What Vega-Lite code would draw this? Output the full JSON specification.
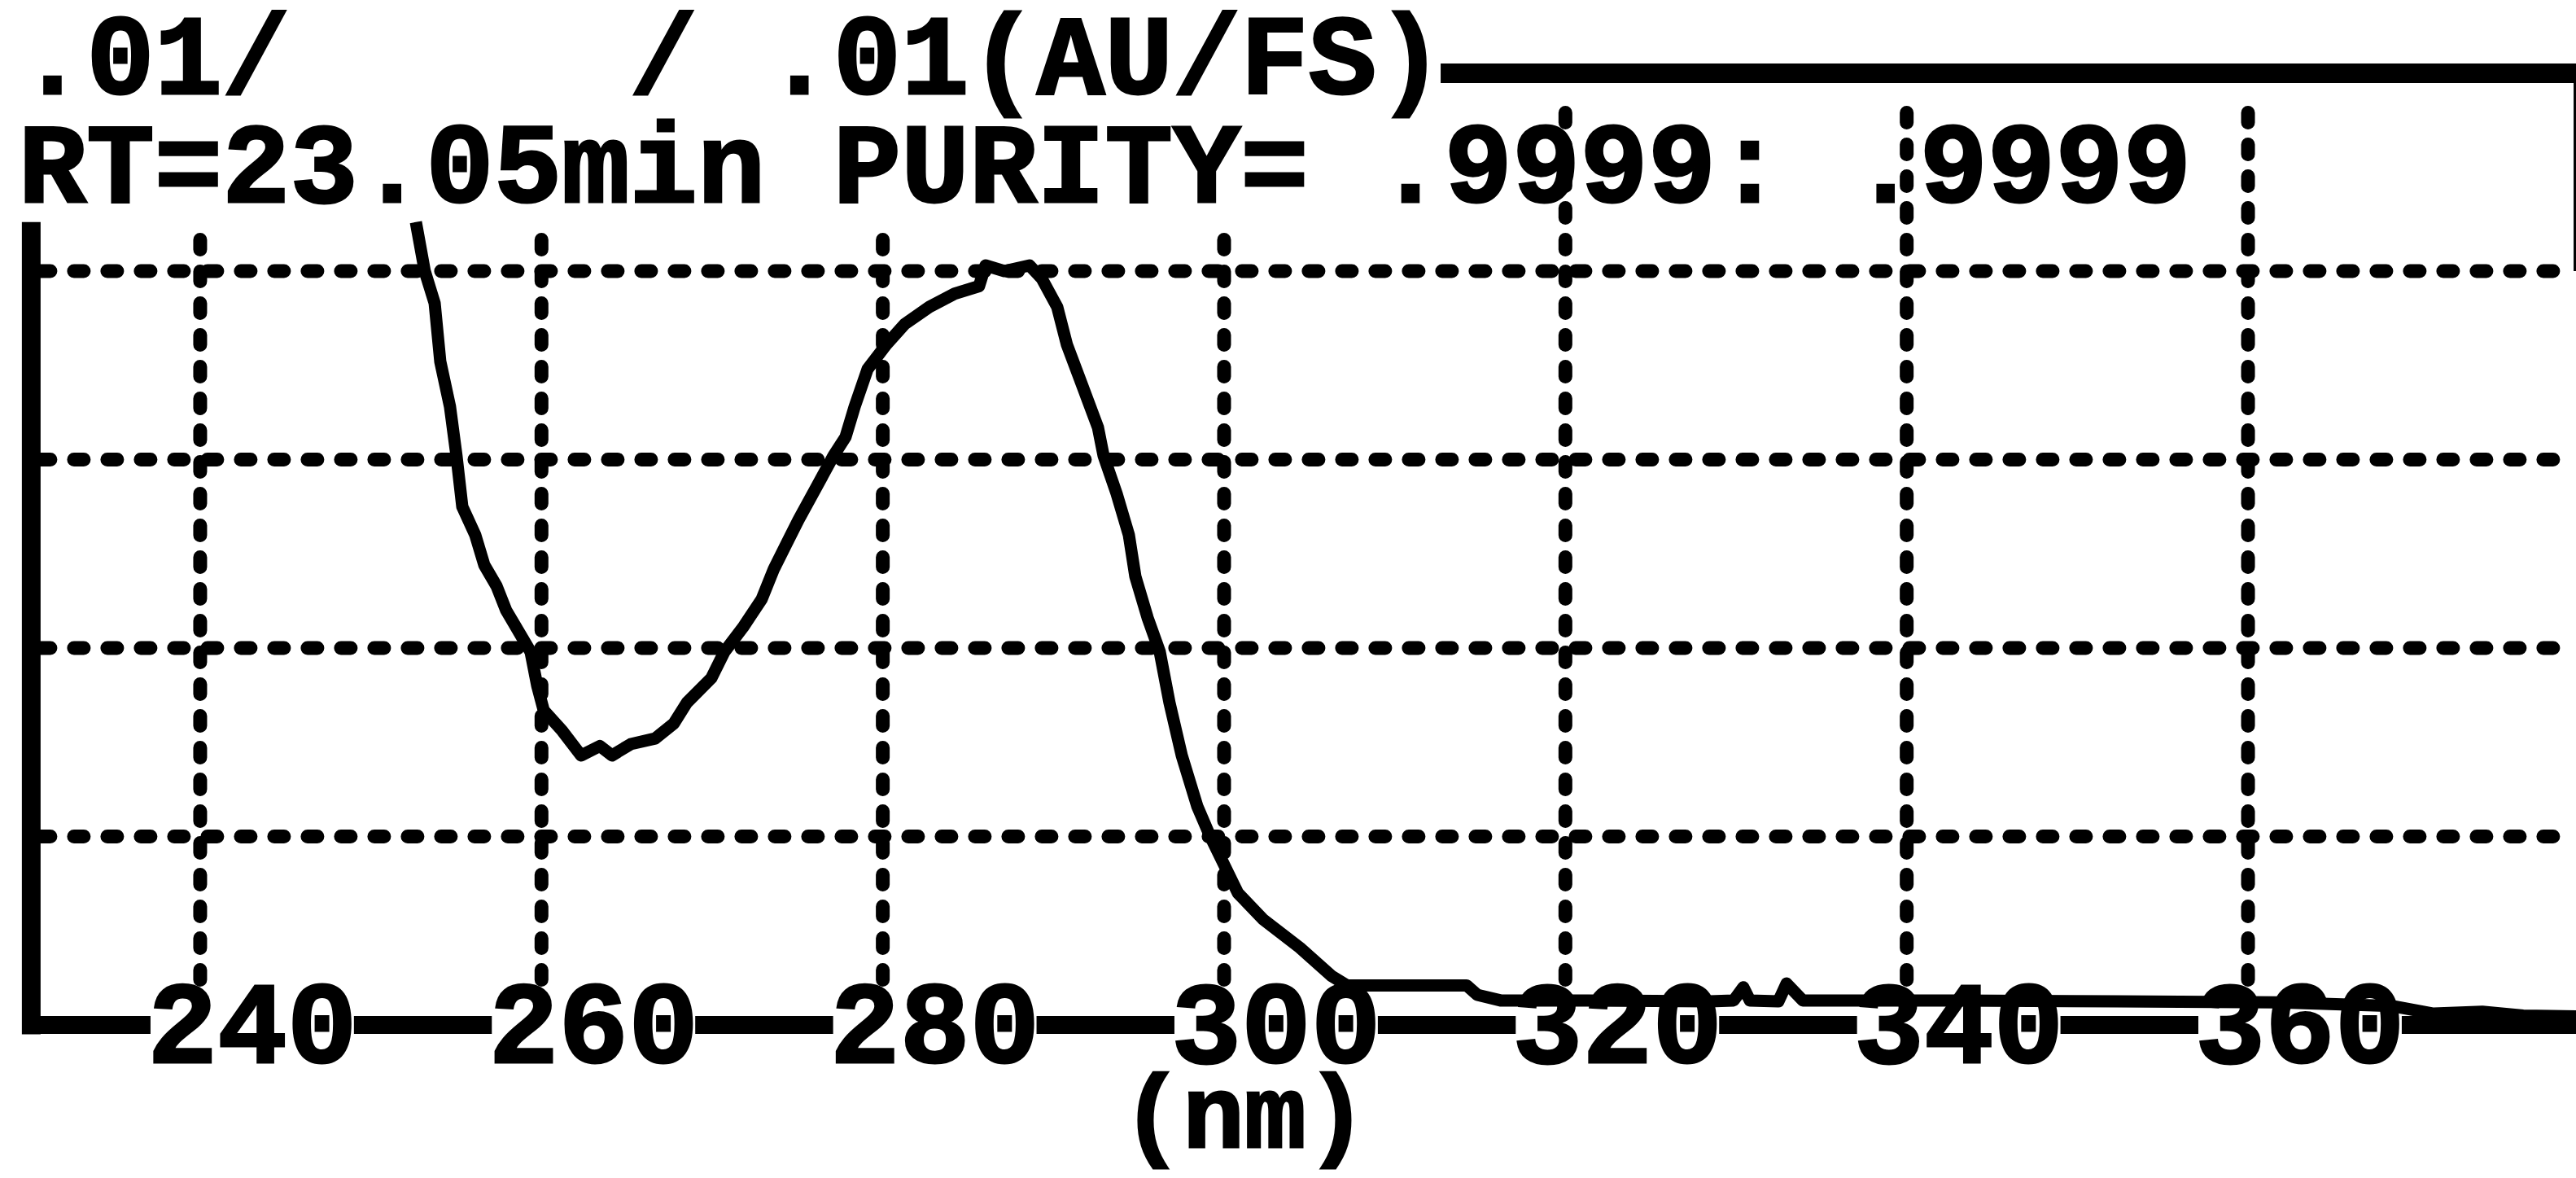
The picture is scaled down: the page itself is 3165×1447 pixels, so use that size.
{
  "$schema": "https://vega.github.io/schema/vega-lite/v6.json",
  "width": 3165,
  "height": 1447,
  "padding": 0,
  "autosize": {"type": "none"},
  "background": "white",
  "config": {"view": {"stroke": null}},
  "datasets": {
    "hgrid": [
      {"nm": 230.65, "nm2": 379.22, "v": 1},
      {"nm": 230.65, "nm2": 379.22, "v": 2},
      {"nm": 230.65, "nm2": 379.22, "v": 3},
      {"nm": 230.65, "nm2": 379.22, "v": 4}
    ],
    "vgrid": [
      {"nm": 240, "v": 0.24, "v2": 4.23},
      {"nm": 260, "v": 0.24, "v2": 4.25},
      {"nm": 280, "v": 0.24, "v2": 4.25},
      {"nm": 300, "v": 0.24, "v2": 4.25},
      {"nm": 320, "v": 0.24, "v2": 4.94},
      {"nm": 340, "v": 0.24, "v2": 4.94},
      {"nm": 360, "v": 0.24, "v2": 4.94}
    ],
    "vaxis": [{"nm": 230.1, "v": -0.05, "v2": 4.26}],
    "haxis": [{"nm": 229.56, "nm2": 379.22, "v": 0}],
    "labelbox": [
      {"nm": 237.09, "nm2": 249.01, "v": -0.07, "v2": 0.07},
      {"nm": 257.09, "nm2": 269.01, "v": -0.07, "v2": 0.07},
      {"nm": 277.09, "nm2": 289.01, "v": -0.07, "v2": 0.07},
      {"nm": 297.09, "nm2": 309.01, "v": -0.07, "v2": 0.07},
      {"nm": 317.09, "nm2": 329.01, "v": -0.07, "v2": 0.07},
      {"nm": 337.09, "nm2": 349.01, "v": -0.07, "v2": 0.07},
      {"nm": 357.09, "nm2": 369.01, "v": -0.07, "v2": 0.07}
    ],
    "ticklabels": [
      {"nm": 243.05, "v": -0.2, "label": "240"},
      {"nm": 263.05, "v": -0.2, "label": "260"},
      {"nm": 283.05, "v": -0.2, "label": "280"},
      {"nm": 303.05, "v": -0.2, "label": "300"},
      {"nm": 323.05, "v": -0.2, "label": "320"},
      {"nm": 343.05, "v": -0.2, "label": "340"},
      {"nm": 363.05, "v": -0.2, "label": "360"}
    ],
    "unitlabel": [{"nm": 301.19, "v": -0.65, "label": "(nm)"}],
    "header": [
      {"nm": 229.36, "v": 4.942, "label": ".01/\u00a0\u00a0\u00a0\u00a0\u00a0/\u00a0.01(AU/FS)"},
      {"nm": 229.36, "v": 4.367, "label": "RT=23.05min\u00a0PURITY=\u00a0.9999:\u00a0.9999"}
    ],
    "toprule": [{"nm": 312.69, "nm2": 379.22, "v": 5.05}],
    "rightframe": [{"nm": 379.15, "v": 4.0, "v2": 5.05}],
    "curve": [
      {"nm": 252.64, "v": 4.26},
      {"nm": 253.16, "v": 4.0},
      {"nm": 253.74, "v": 3.83},
      {"nm": 254.07, "v": 3.52},
      {"nm": 254.64, "v": 3.28},
      {"nm": 255.02, "v": 3.02},
      {"nm": 255.36, "v": 2.75},
      {"nm": 256.12, "v": 2.6},
      {"nm": 256.65, "v": 2.44},
      {"nm": 257.36, "v": 2.33},
      {"nm": 257.93, "v": 2.2},
      {"nm": 258.84, "v": 2.06},
      {"nm": 259.36, "v": 1.98},
      {"nm": 259.75, "v": 1.8},
      {"nm": 260.13, "v": 1.67},
      {"nm": 261.22, "v": 1.56},
      {"nm": 262.32, "v": 1.43},
      {"nm": 263.42, "v": 1.48},
      {"nm": 264.13, "v": 1.43},
      {"nm": 265.23, "v": 1.49},
      {"nm": 266.66, "v": 1.52},
      {"nm": 267.76, "v": 1.6},
      {"nm": 268.52, "v": 1.71},
      {"nm": 269.95, "v": 1.84},
      {"nm": 270.72, "v": 1.98},
      {"nm": 271.81, "v": 2.11},
      {"nm": 272.91, "v": 2.26},
      {"nm": 273.62, "v": 2.42},
      {"nm": 274.34, "v": 2.55},
      {"nm": 275.06, "v": 2.68},
      {"nm": 276.15, "v": 2.86},
      {"nm": 277.11, "v": 3.02},
      {"nm": 277.82, "v": 3.12},
      {"nm": 278.35, "v": 3.28},
      {"nm": 279.11, "v": 3.48},
      {"nm": 280.21, "v": 3.61},
      {"nm": 281.3, "v": 3.72},
      {"nm": 282.73, "v": 3.81},
      {"nm": 284.21, "v": 3.88},
      {"nm": 285.64, "v": 3.92},
      {"nm": 286.02, "v": 4.03},
      {"nm": 287.12, "v": 4.0},
      {"nm": 288.6, "v": 4.03},
      {"nm": 289.32, "v": 3.96},
      {"nm": 290.22, "v": 3.81},
      {"nm": 290.79, "v": 3.61},
      {"nm": 291.7, "v": 3.39},
      {"nm": 292.61, "v": 3.17},
      {"nm": 292.94, "v": 3.02},
      {"nm": 293.7, "v": 2.82},
      {"nm": 294.42, "v": 2.6},
      {"nm": 294.8, "v": 2.38},
      {"nm": 295.52, "v": 2.16},
      {"nm": 296.23, "v": 1.98},
      {"nm": 296.8, "v": 1.71},
      {"nm": 297.52, "v": 1.43},
      {"nm": 298.43, "v": 1.16},
      {"nm": 299.14, "v": 1.01},
      {"nm": 300.81, "v": 0.7},
      {"nm": 302.29, "v": 0.56},
      {"nm": 304.44, "v": 0.41},
      {"nm": 306.3, "v": 0.26},
      {"nm": 307.2, "v": 0.21},
      {"nm": 309.35, "v": 0.21},
      {"nm": 314.21, "v": 0.21},
      {"nm": 314.83, "v": 0.16},
      {"nm": 316.2, "v": 0.13},
      {"nm": 321.27, "v": 0.13},
      {"nm": 328.43, "v": 0.125},
      {"nm": 329.86, "v": 0.13},
      {"nm": 330.43, "v": 0.2},
      {"nm": 330.81, "v": 0.13},
      {"nm": 332.48, "v": 0.125},
      {"nm": 332.96, "v": 0.22},
      {"nm": 333.91, "v": 0.13},
      {"nm": 342.73, "v": 0.13},
      {"nm": 352.27, "v": 0.125},
      {"nm": 361.81, "v": 0.12},
      {"nm": 368.49, "v": 0.1},
      {"nm": 370.87, "v": 0.06},
      {"nm": 373.73, "v": 0.07},
      {"nm": 376.12, "v": 0.05},
      {"nm": 379.22, "v": 0.045}
    ]
  },
  "encoding": {
    "x": {"field": "nm", "type": "quantitative", "scale": {"domain": [228.27, 379.22], "nice": false, "zero": false}, "axis": null},
    "y": {"field": "v", "type": "quantitative", "scale": {"domain": [-0.8121, 5.4384], "nice": false, "zero": false}, "axis": null}
  },
  "layer": [
    {
      "data": {"name": "hgrid"},
      "mark": {"type": "rule", "color": "black", "strokeWidth": 17, "strokeDash": [12, 29], "strokeCap": "round"},
      "encoding": {"x2": {"field": "nm2"}}
    },
    {
      "data": {"name": "vgrid"},
      "mark": {"type": "rule", "color": "black", "strokeWidth": 17, "strokeDash": [12, 27], "strokeCap": "round"},
      "encoding": {"y2": {"field": "v2"}}
    },
    {
      "data": {"name": "vaxis"},
      "mark": {"type": "rule", "color": "black", "strokeWidth": 23},
      "encoding": {"y2": {"field": "v2"}}
    },
    {
      "data": {"name": "haxis"},
      "mark": {"type": "rule", "color": "black", "strokeWidth": 22},
      "encoding": {"x2": {"field": "nm2"}}
    },
    {
      "data": {"name": "labelbox"},
      "mark": {"type": "rect", "color": "white"},
      "encoding": {"x2": {"field": "nm2"}, "y2": {"field": "v2"}}
    },
    {
      "data": {"name": "ticklabels"},
      "mark": {"type": "text", "font": "Liberation Mono", "fontWeight": "bold", "fontSize": 143, "align": "center", "baseline": "alphabetic", "color": "black", "stroke": "black", "strokeWidth": 3},
      "encoding": {"text": {"field": "label"}}
    },
    {
      "data": {"name": "unitlabel"},
      "mark": {"type": "text", "font": "Liberation Mono", "fontWeight": "bold", "fontSize": 126, "align": "center", "baseline": "alphabetic", "color": "black", "stroke": "black", "strokeWidth": 3},
      "encoding": {"text": {"field": "label"}}
    },
    {
      "data": {"name": "header"},
      "mark": {"type": "text", "font": "Liberation Mono", "fontWeight": "bold", "fontSize": 139, "align": "left", "baseline": "alphabetic", "color": "black", "stroke": "black", "strokeWidth": 3},
      "encoding": {"text": {"field": "label"}}
    },
    {
      "data": {"name": "toprule"},
      "mark": {"type": "rule", "color": "black", "strokeWidth": 24},
      "encoding": {"x2": {"field": "nm2"}}
    },
    {
      "data": {"name": "rightframe"},
      "mark": {"type": "rule", "color": "black", "strokeWidth": 3},
      "encoding": {"y2": {"field": "v2"}}
    },
    {
      "data": {"name": "curve"},
      "mark": {"type": "line", "color": "black", "strokeWidth": 15, "strokeJoin": "round"},
      "encoding": {}
    }
  ]
}
